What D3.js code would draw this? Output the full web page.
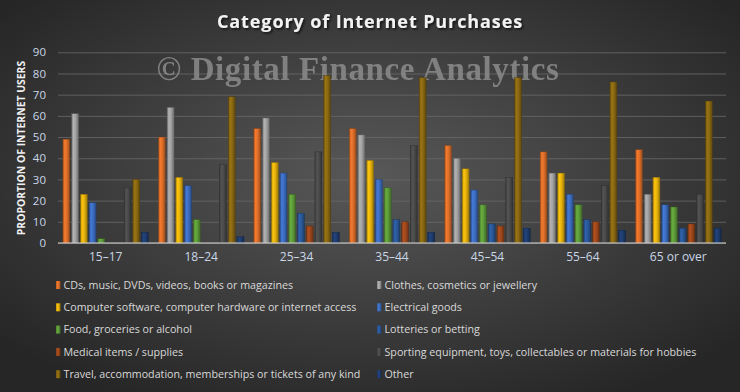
<!DOCTYPE html>
<html><head><meta charset="utf-8">
<script src="https://cdn.jsdelivr.net/npm/d3@7"></script>
<style>
html,body{margin:0;padding:0;background:#333;}
svg{display:block;}
</style></head>
<body>
<svg id="chart" width="740" height="392"></svg>
<script>
const categories = ["15–17","18–24","25–34","35–44","45–54","55–64","65 or over"];
const seriesNames = [
  "CDs, music, DVDs, videos, books or magazines",
  "Clothes, cosmetics or jewellery",
  "Computer software, computer hardware or internet access",
  "Electrical goods",
  "Food, groceries or alcohol",
  "Lotteries or betting",
  "Medical items / supplies",
  "Sporting equipment, toys, collectables or materials for hobbies",
  "Travel, accommodation, memberships or  tickets of any kind",
  "Other"
];
const cds        = [49,50,54,54,46,43,44];
const clothes    = [61,64,59,51,40,33,23];
const computer   = [23,31,38,39,35,33,31];
const electrical = [19,27,33,30,25,23,18];
const food       = [2,11,23,26,18,18,17];
const lotteries  = [0,0,14,11,9,11,7];
const medical    = [0,0,8,10,8,10,9];
const sporting   = [26,37,43,46,31,27,23];
const travel     = [30,69,79,78,78,76,67];
const other      = [5,3,5,5,7,6,7];
const yTicks = [0,10,20,30,40,50,60,70,80,90];

const seriesValues = [cds,clothes,computer,electrical,food,lotteries,medical,sporting,travel,other];
const colors = ["#e0702a","#a3a3a3","#e8b40c","#3d6fc4","#5f9e3a","#2b5a9c","#a1491c","#4c4c4c","#8c6a12","#1f3e72"];

const svg = d3.select("#chart");
const W = 740, H = 392;
const defs = svg.append("defs");

// background radial gradient
const bg = defs.append("radialGradient").attr("id","bg")
  .attr("cx","50%").attr("cy","45%").attr("r","65%");
bg.append("stop").attr("offset","0%").attr("stop-color","#585858");
bg.append("stop").attr("offset","100%").attr("stop-color","#262626");
svg.append("rect").attr("width",W).attr("height",H).attr("fill","url(#bg)");

const sh = defs.append("filter").attr("id","shadow").attr("x","-10%").attr("y","-30%").attr("width","120%").attr("height","160%");
sh.append("feDropShadow").attr("dx",1.5).attr("dy",1.5).attr("stdDeviation",1).attr("flood-color","#000").attr("flood-opacity",0.7);

// bar gradients (beveled look)
colors.forEach((c,i)=>{
  const g = defs.append("linearGradient").attr("id","bar"+i)
    .attr("x1","0%").attr("x2","100%").attr("y1","0%").attr("y2","0%");
  const col = d3.color(c);
  g.append("stop").attr("offset","0%").attr("stop-color",col.darker(0.9));
  g.append("stop").attr("offset","25%").attr("stop-color",col.brighter(0.25));
  g.append("stop").attr("offset","55%").attr("stop-color",col);
  g.append("stop").attr("offset","100%").attr("stop-color",col.darker(1.1));
});

const m = {left:58, right:14, top:52, bottom:149};
const x0 = d3.scaleBand().domain(categories).range([m.left, W-m.right]).paddingInner(0.066).paddingOuter(0.033);
const x1 = d3.scaleBand().domain(d3.range(seriesNames.length)).range([0, x0.bandwidth()]).padding(0.2);
const y = d3.scaleLinear().domain([0,90]).range([243,52.3]);

// title
svg.append("text").attr("x",370).attr("y",28).attr("text-anchor","middle")
  .attr("font-family","'Open Sans', 'DejaVu Sans', sans-serif").attr("font-weight","bold")
  .attr("font-size",18).attr("fill","#f2f2f2").attr("letter-spacing",0.9)
  .attr("filter","url(#shadow)")
  .text("Category of Internet Purchases");

// gridlines
const yAxis = d3.axisLeft(y).tickValues(yTicks).tickSize(-(W-m.right-m.left)).tickPadding(12);
const ga = svg.append("g").attr("transform",`translate(${m.left},0)`).call(yAxis);
ga.select(".domain").remove();
ga.selectAll(".tick line").attr("stroke","#6a6a6a").attr("stroke-width",0.8);
ga.selectAll(".tick text").attr("fill","#c9d6e8").attr("font-size",11.5)
  .attr("font-family","'Open Sans', 'DejaVu Sans', sans-serif");

// watermark
svg.append("text").attr("x",358).attr("y",80).attr("text-anchor","middle")
  .attr("font-family","'Liberation Serif', 'DejaVu Serif', serif").attr("font-weight","bold")
  .attr("font-size",33).attr("letter-spacing",0.6).attr("fill","#8c8c8c").attr("opacity",0.85)
  .text("© Digital Finance Analytics");

// bars
const groups = svg.append("g").selectAll("g").data(categories).join("g")
  .attr("transform",d=>`translate(${x0(d)},0)`);
groups.selectAll("rect").data((d,ci)=>seriesValues.map((s,si)=>({si, v:s[ci]})))
  .join("rect")
  .attr("x",d=>x1(d.si))
  .attr("width",x1.bandwidth())
  .attr("y",d=>y(d.v))
  .attr("height",d=>y(0)-y(d.v))
  .attr("fill",d=>`url(#bar${d.si})`)
  .attr("stroke",d=>d3.color(colors[d.si]).darker(1.5))
  .attr("stroke-width",d=>d.v>0?0.4:0);

// x axis line
svg.append("line").attr("x1",m.left).attr("x2",W-m.right).attr("y1",y(0)).attr("y2",y(0))
  .attr("stroke","#d9d9d9").attr("stroke-width",1.2);

// x labels
const xAxis = d3.axisBottom(x0).tickSize(0).tickPadding(9);
const gx = svg.append("g").attr("transform",`translate(0,${y(0)})`).call(xAxis);
gx.select(".domain").remove();
gx.selectAll(".tick text").attr("fill","#c9d6e8").attr("font-size",12)
  .attr("font-family","'Open Sans', 'DejaVu Sans', sans-serif");

// y title
svg.append("text").attr("transform","translate(25,148) rotate(-90)").attr("text-anchor","middle")
  .attr("font-family","'Open Sans', 'DejaVu Sans', sans-serif").attr("font-weight","bold")
  .attr("font-size",10.4).attr("fill","#f0f0f0")
  .text("PROPORTION OF INTERNET USERS");

// legend
const legend = svg.append("g");
const li = legend.selectAll("g").data(seriesNames).join("g")
  .attr("transform",(d,i)=>`translate(${i%2===0?56:377},${285+Math.floor(i/2)*22.3})`);
li.append("rect").attr("x",0).attr("y",-4).attr("width",4.5).attr("height",8)
  .attr("fill",(d,i)=>`url(#bar${i})`);
li.append("text").attr("x",7.5).attr("dy","0.35em")
  .attr("font-family","'Open Sans',sans-serif")
  .attr("font-size",10.7).attr("fill","#d9d9d9")
  .text(d=>d);
</script>
</body></html>
